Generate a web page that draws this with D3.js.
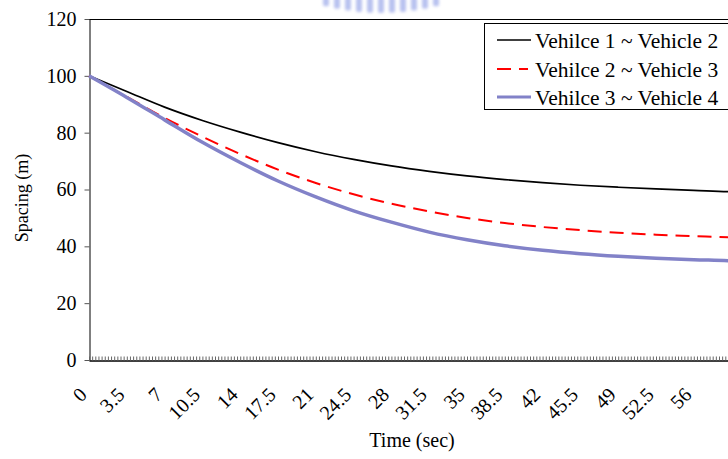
<!DOCTYPE html>
<html>
<head>
<meta charset="utf-8">
<script src="https://cdn.jsdelivr.net/npm/d3@7"></script>
<style>
  body { margin: 0; background: #fff; }
  svg { display: block; overflow: hidden; font-family: "Liberation Serif", "Times New Roman", serif; }
</style>
</head>
<body>
<svg width="728" height="459"></svg>
<script>
// Data (spacing in m against time in sec)
const TIME     = [0, 3.5, 7, 10.5, 14, 17.5, 21, 24.5, 28, 31.5, 35, 38.5, 42, 45.5, 49, 52.5, 56, 59.5, 60];
const GAP_1_2  = [100, 94.5, 89, 84.3, 80.2, 76.5, 73.3, 70.6, 68.3, 66.4, 64.8, 63.5, 62.4, 61.5, 60.8, 60.2, 59.7, 59.2, 59.1];
const GAP_2_3  = [100, 92.6, 85.2, 78.6, 72.5, 67, 62.3, 58.3, 55, 52.3, 50, 48.2, 46.8, 45.7, 44.8, 44.1, 43.6, 43.1, 43];
const GAP_3_4  = [100, 92.4, 84.5, 76.6, 69.5, 63, 57.4, 52.5, 48.5, 45, 42.3, 40.2, 38.6, 37.4, 36.5, 35.8, 35.3, 34.9, 34.8];
const SERIES_NAMES = ["Vehilce 1 ~ Vehicle 2", "Vehilce 2 ~ Vehicle 3", "Vehilce 3 ~ Vehicle 4"];
const X_LABELS = [0, 3.5, 7, 10.5, 14, 17.5, 21, 24.5, 28, 31.5, 35, 38.5, 42, 45.5, 49, 52.5, 56];
const Y_TICKS  = [0, 20, 40, 60, 80, 100, 120];

const svg = d3.select("svg");

// Chart constants
const plotLeft = 89, plotTop = 19, plotBottom = 360;
const x = d3.scaleLinear().domain([0, 60]).range([plotLeft, plotLeft + 60 * 10.8]);
const y = d3.scaleLinear().domain([0, 120]).range([plotBottom, plotTop]);

// faint blurred watermark cut off at the top edge
const defs = svg.append("defs");
defs.append("filter").attr("id", "blur")
  .attr("x", "-50%").attr("y", "-50%").attr("width", "200%").attr("height", "200%")
  .append("feGaussianBlur").attr("stdDeviation", 1.4);
const wm = svg.append("g").attr("filter", "url(#blur)").attr("opacity", 0.4);
d3.range(11).forEach(i => {
  const cx = 326 + i * 11;
  const depth = 13 - Math.pow((cx - 381) / 56, 2) * 7;
  wm.append("rect")
    .attr("x", cx - 3).attr("y", -3)
    .attr("width", 6).attr("height", depth + 3)
    .attr("rx", 2)
    .attr("fill", "#4f66d8");
});

// plot frame (top line; the right side falls outside the crop)
svg.append("line")
  .attr("x1", plotLeft).attr("x2", x(60) + 1)
  .attr("y1", plotTop + 0.5).attr("y2", plotTop + 0.5)
  .attr("stroke", "#000").attr("stroke-width", 1);

// y axis
const yAxis = svg.append("g")
  .attr("transform", `translate(${plotLeft + 0.5},0)`)
  .call(d3.axisLeft(y).tickValues(Y_TICKS).tickSize(5).tickPadding(8).tickSizeOuter(0));
yAxis.attr("font-family", null);
yAxis.select(".domain").attr("stroke", "#000");
yAxis.selectAll(".tick line").attr("stroke", "#555");
yAxis.selectAll(".tick text").attr("font-size", 20).attr("fill", "#000");

// x axis: small inward ticks
const minorTicks = d3.range(0, 60.01, 3.5 / 12);
const xAxis = svg.append("g")
  .attr("transform", `translate(0,${plotBottom + 0.5})`)
  .call(d3.axisBottom(x).tickValues(minorTicks).tickSize(-4).tickSizeOuter(0).tickFormat(""));
xAxis.select(".domain").attr("stroke", "#000").attr("stroke-width", 1.5);
xAxis.selectAll(".tick line").attr("stroke", "#666");

// rotated category labels
svg.append("g").selectAll("text")
  .data(X_LABELS)
  .join("text")
  .attr("transform", d => `translate(${x(d) - 6},${391}) rotate(-45)`)
  .attr("text-anchor", "end")
  .attr("dy", "0.35em")
  .attr("font-size", 20)
  .text(d => d);

// axis titles
svg.append("text")
  .attr("x", 412).attr("y", 447)
  .attr("text-anchor", "middle").attr("font-size", 20)
  .text("Time (sec)");
svg.append("text")
  .attr("transform", "translate(28,198) rotate(-90)")
  .attr("text-anchor", "middle").attr("font-size", 18)
  .text("Spacing (m)");

// lines
const line = d3.line()
  .x(d => x(d[0]))
  .y(d => y(d[1]))
  .curve(d3.curveMonotoneX);

const series = [
  { values: GAP_1_2, color: "#000", width: 1.7, dash: null },
  { values: GAP_2_3, color: "#ff0000", width: 2, dash: "14,8" },
  { values: GAP_3_4, color: "#8282c8", width: 3.5, dash: null }
];

svg.append("g").selectAll("path")
  .data(series)
  .join("path")
  .attr("d", s => line(TIME.map((t, i) => [t, s.values[i]])))
  .attr("fill", "none")
  .attr("stroke", s => s.color)
  .attr("stroke-width", s => s.width)
  .attr("stroke-dasharray", s => s.dash);

// legend
const legend = svg.append("g");
legend.append("rect")
  .attr("x", 484.5).attr("y", 23.5)
  .attr("width", 270).attr("height", 86)
  .attr("fill", "#fff").attr("stroke", "#000").attr("stroke-width", 1);

const rows = legend.selectAll("g.row")
  .data(series)
  .join("g")
  .attr("class", "row")
  .attr("transform", (d, i) => `translate(0,${[40, 69, 97][i]})`);
rows.append("line")
  .attr("x1", 497).attr("x2", d => d.dash ? 528 : 531)
  .attr("stroke", d => d.color)
  .attr("stroke-width", d => d.width === 3.5 ? 3 : d.width)
  .attr("stroke-dasharray", d => d.dash);
rows.append("text")
  .attr("x", 535).attr("dy", "0.35em")
  .attr("font-size", 21.5)
  .text((d, i) => SERIES_NAMES[i]);
</script>
</body>
</html>
